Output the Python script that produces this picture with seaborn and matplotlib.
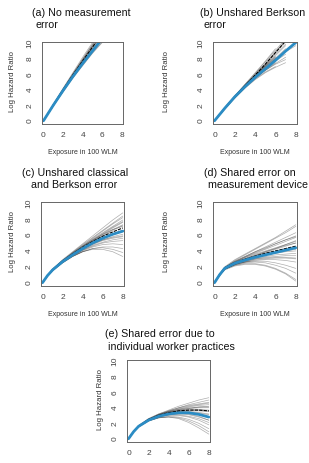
import numpy as np
import pandas as pd
import matplotlib
matplotlib.use("Agg")
import matplotlib.pyplot as plt
import seaborn as sns

# ---- data ----
# panel (a): no measurement error, x = 0..6
x_a = [0, 1, 2, 3, 4, 5, 6]
blue_a = [0, 2.0, 3.9, 5.7, 7.4, 9.0, 10.6]
black_a = [0, 2.0, 4.0, 5.9, 7.7, 9.5, 11.3]
sims_a = [
    [0, 2.0, 3.9, 5.8, 7.6, 9.3, 11.0],
    [0, 2.1, 4.1, 6.0, 7.9, 9.7, 11.5],
    [0, 1.9, 3.8, 5.6, 7.3, 8.9, 10.4],
    [0, 2.0, 4.0, 5.9, 7.8, 9.6, 11.3],
    [0, 2.1, 4.0, 5.8, 7.5, 9.2, 10.8],
    [0, 1.9, 3.9, 5.8, 7.7, 9.5, 11.2],
    [0, 2.0, 3.9, 5.7, 7.4, 9.0, 10.5],
    [0, 2.1, 4.1, 6.1, 8.0, 9.9, 11.8],
    [0, 2.0, 3.8, 5.6, 7.2, 8.8, 10.2],
    [0, 1.9, 3.8, 5.7, 7.6, 9.4, 11.1],
    [0, 2.0, 4.0, 6.0, 7.9, 9.8, 11.6],
    [0, 2.0, 3.9, 5.7, 7.5, 9.1, 10.7],
    [0, 1.9, 3.7, 5.5, 7.1, 8.7, 10.1],
    [0, 2.1, 4.2, 6.2, 8.2, 10.1, 12.0],
]

# panel (b): unshared Berkson error, x = 0..8 (runs stop at different x)
x_b = [0, 1, 2, 3, 4, 5, 6, 7, 8]
blue_b = [0, 1.6, 3.1, 4.4, 5.6, 6.7, 7.8, 9.0, 10.1]
black_b = [0, 1.6, 3.1, 4.5, 5.9, 7.3, 8.8, 10.3]
sims_b = [
    [0, 1.6, 3.1, 4.5, 5.8, 7.1, 8.4, 9.7],
    [0, 1.6, 3.0, 4.3, 5.5, 6.5, 7.4, 8.2],
    [0, 1.7, 3.2, 4.7, 6.1, 7.6, 9.1, 10.6],
    [0, 1.6, 3.1, 4.4, 5.6, 6.6, 7.5],
    [0, 1.5, 3.0, 4.3, 5.4, 6.3, 7.0],
    [0, 1.6, 3.1, 4.5, 5.9, 7.3, 8.8, 10.2],
    [0, 1.6, 3.0, 4.4, 5.7, 6.9, 8.0, 9.1],
    [0, 1.7, 3.2, 4.6, 6.0, 7.4, 8.9, 10.4],
    [0, 1.6, 3.1, 4.4, 5.7, 7.0, 8.2],
    [0, 1.5, 2.9, 4.2, 5.3, 6.2, 6.9, 7.5],
    [0, 1.6, 3.1, 4.5, 5.8, 7.2, 8.6, 9.9],
    [0, 1.6, 3.2, 4.6, 5.9, 7.1, 8.3],
    [0, 1.6, 3.0, 4.3, 5.5, 6.6, 7.7, 8.6],
    [0, 1.7, 3.2, 4.7, 6.2, 7.7, 9.3],
    [0, 1.6, 3.1, 4.5, 5.8, 7.0, 8.1, 9.3],
    [0, 1.6, 3.0, 4.3, 5.6, 6.8, 7.9],
    [0, 1.6, 3.1, 4.4, 5.6, 6.8, 8.0, 8.9, 9.7],
    [0, 1.5, 3.0, 4.3, 5.5, 6.5, 7.3, 7.9],
]

# panels (c)-(e) share this exposure grid
x_grid = [0, 0.5, 1, 2, 3, 4, 5, 6, 7, 8]

blue_c = [0, 0.9, 1.6, 2.65, 3.5, 4.3, 5.0, 5.6, 6.1, 6.5]
black_c = [0, 0.9, 1.6, 2.7, 3.6, 4.45, 5.2, 5.85, 6.4, 6.9]
sims_c = [
    [0, 0.9, 1.6, 2.7, 3.6, 4.5, 5.3, 6.1, 6.9, 7.6],
    [0, 0.9, 1.6, 2.6, 3.4, 4.1, 4.7, 5.1, 5.4, 5.6],
    [0, 0.9, 1.7, 2.8, 3.8, 4.8, 5.7, 6.6, 7.5, 8.4],
    [0, 0.9, 1.6, 2.6, 3.4, 4.0, 4.5, 4.8, 4.9, 4.8],
    [0, 0.9, 1.6, 2.7, 3.6, 4.4, 5.1, 5.7, 6.2, 6.6],
    [0, 0.8, 1.5, 2.5, 3.3, 3.9, 4.3, 4.5, 4.5, 4.3],
    [0, 0.9, 1.7, 2.8, 3.7, 4.6, 5.5, 6.3, 7.1, 7.9],
    [0, 0.9, 1.6, 2.6, 3.5, 4.2, 4.9, 5.4, 5.8, 6.1],
    [0, 0.9, 1.7, 2.8, 3.8, 4.7, 5.6, 6.5, 7.4, 8.2],
    [0, 0.8, 1.5, 2.5, 3.3, 3.9, 4.3, 4.4, 4.2, 3.8],
    [0, 0.9, 1.6, 2.7, 3.6, 4.4, 5.2, 5.9, 6.6, 7.2],
    [0, 0.9, 1.6, 2.6, 3.5, 4.2, 4.8, 5.3, 5.6, 5.8],
    [0, 0.9, 1.7, 2.8, 3.7, 4.6, 5.4, 6.2, 7.0, 7.7],
    [0, 0.8, 1.5, 2.5, 3.3, 3.9, 4.2, 4.2, 3.9, 3.3],
    [0, 0.9, 1.6, 2.7, 3.6, 4.5, 5.3, 6.0, 6.7, 7.3],
    [0, 0.9, 1.6, 2.6, 3.5, 4.3, 5.0, 5.6, 6.1, 6.4],
    [0, 0.9, 1.7, 2.9, 3.9, 4.9, 5.9, 6.9, 7.9, 8.8],
    [0, 0.9, 1.6, 2.6, 3.4, 4.1, 4.6, 5.0, 5.2, 5.3],
    [0, 0.9, 1.6, 2.7, 3.7, 4.6, 5.4, 6.1, 6.7, 7.1],
    [0, 0.9, 1.6, 2.6, 3.5, 4.3, 4.9, 5.4, 5.7, 5.9],
]

blue_d = [0, 1.0, 1.8, 2.45, 2.85, 3.2, 3.5, 3.8, 4.1, 4.4]
black_d = [0, 1.0, 1.8, 2.5, 2.95, 3.35, 3.7, 4.0, 4.3, 4.6]
sims_d = [
    [0, 1.0, 1.9, 2.7, 3.3, 3.9, 4.5, 5.1, 5.7, 6.3],
    [0, 1.0, 1.8, 2.4, 2.8, 3.1, 3.3, 3.5, 3.6, 3.7],
    [0, 1.1, 1.9, 2.8, 3.5, 4.2, 4.9, 5.6, 6.3, 7.1],
    [0, 0.9, 1.7, 2.3, 2.6, 2.8, 2.9, 2.9, 2.8, 2.6],
    [0, 1.0, 1.8, 2.5, 3.0, 3.4, 3.8, 4.2, 4.6, 5.0],
    [0, 0.9, 1.7, 2.2, 2.5, 2.6, 2.5, 2.2, 1.8, 1.2],
    [0, 1.0, 1.9, 2.6, 3.2, 3.7, 4.2, 4.7, 5.2, 5.7],
    [0, 1.0, 1.8, 2.4, 2.7, 3.0, 3.1, 3.2, 3.2, 3.1],
    [0, 0.9, 1.7, 2.2, 2.4, 2.4, 2.2, 1.8, 1.2, 0.4],
    [0, 1.0, 1.8, 2.5, 2.9, 3.3, 3.7, 4.0, 4.3, 4.6],
    [0, 1.0, 1.9, 2.6, 3.1, 3.6, 4.0, 4.4, 4.8, 5.2],
    [0, 0.9, 1.7, 2.3, 2.6, 2.9, 3.0, 3.1, 3.1, 3.0],
    [0, 1.1, 2.0, 2.9, 3.6, 4.3, 5.0, 5.7, 6.5, 7.3],
    [0, 1.0, 1.8, 2.4, 2.8, 3.2, 3.5, 3.8, 4.0, 4.2],
    [0, 0.9, 1.6, 2.1, 2.3, 2.3, 2.1, 1.7, 1.1, 0.2],
    [0, 1.0, 1.8, 2.5, 3.0, 3.5, 3.9, 4.3, 4.7, 5.0],
    [0, 1.0, 1.9, 2.6, 3.2, 3.8, 4.3, 4.9, 5.4, 5.9],
    [0, 0.9, 1.7, 2.3, 2.7, 3.0, 3.2, 3.3, 3.4, 3.4],
    [0, 1.0, 1.8, 2.4, 2.9, 3.2, 3.5, 3.7, 3.9, 4.0],
    [0, 0.9, 1.7, 2.3, 2.6, 2.7, 2.7, 2.5, 2.2, 1.8],
    [0, 1.0, 1.8, 2.5, 3.0, 3.4, 3.9, 4.3, 4.8, 5.3],
    [0, 1.0, 1.9, 2.7, 3.3, 3.9, 4.4, 4.9, 5.4, 5.8],
]

blue_e = [0, 0.9, 1.6, 2.4, 2.9, 3.2, 3.35, 3.35, 3.15, 2.8]
black_e = [0, 0.9, 1.6, 2.45, 3.0, 3.35, 3.6, 3.7, 3.7, 3.6]
sims_e = [
    [0, 0.9, 1.6, 2.5, 3.1, 3.6, 4.0, 4.4, 4.7, 5.0],
    [0, 0.9, 1.6, 2.4, 2.9, 3.2, 3.3, 3.2, 2.9, 2.4],
    [0, 0.9, 1.7, 2.6, 3.2, 3.7, 4.2, 4.6, 5.0, 5.3],
    [0, 0.9, 1.6, 2.3, 2.7, 2.9, 2.8, 2.5, 2.0, 1.3],
    [0, 0.9, 1.6, 2.5, 3.0, 3.4, 3.7, 3.9, 4.0, 4.0],
    [0, 0.9, 1.5, 2.3, 2.7, 2.8, 2.7, 2.3, 1.7, 0.9],
    [0, 0.9, 1.6, 2.5, 3.1, 3.5, 3.8, 4.1, 4.3, 4.4],
    [0, 0.9, 1.6, 2.4, 2.9, 3.2, 3.4, 3.4, 3.3, 3.1],
    [0, 0.9, 1.6, 2.4, 2.8, 3.0, 3.0, 2.8, 2.4, 1.8],
    [0, 0.9, 1.6, 2.5, 3.0, 3.4, 3.6, 3.8, 3.8, 3.7],
    [0, 0.9, 1.7, 2.6, 3.2, 3.6, 4.0, 4.3, 4.5, 4.7],
    [0, 0.9, 1.6, 2.4, 2.9, 3.1, 3.2, 3.1, 2.8, 2.4],
    [0, 0.9, 1.5, 2.3, 2.7, 2.8, 2.6, 2.1, 1.4, 0.6],
    [0, 0.9, 1.6, 2.5, 3.0, 3.4, 3.7, 3.9, 4.1, 4.2],
    [0, 0.9, 1.6, 2.4, 2.9, 3.3, 3.5, 3.6, 3.6, 3.5],
    [0, 0.9, 1.6, 2.5, 3.1, 3.5, 3.9, 4.2, 4.4, 4.6],
    [0, 0.9, 1.6, 2.4, 2.8, 3.1, 3.1, 2.9, 2.6, 2.1],
    [0, 0.9, 1.6, 2.5, 3.0, 3.3, 3.6, 3.7, 3.7, 3.6],
    [0, 0.9, 1.6, 2.4, 2.9, 3.3, 3.5, 3.5, 3.4, 3.2],
    [0, 0.9, 1.6, 2.5, 3.1, 3.5, 3.8, 4.0, 4.1, 4.1],
]

x_ticks = [0, 2, 4, 6, 8]
y_ticks = [0, 2, 4, 6, 8, 10]
x_label = "Exposure in 100 WLM"
y_label = "Log Hazard Ratio"

W, H = 309, 463
BLUE = "#2b8cc4"
FRAME = "#666666"

sns.set_style("white")
plt.rcParams["font.family"] = ["Liberation Sans", "DejaVu Sans"]


def long_form(x, runs):
    rows = []
    for i, ys in enumerate(runs):
        for xv, yv in zip(x, ys):
            rows.append({"x": xv, "y": yv, "run": i})
    return pd.DataFrame(rows)


def px_axes(fig, left, top, right, bottom):
    return fig.add_axes([left / W, 1 - bottom / H, (right - left) / W, (bottom - top) / H])


def ftext(fig, x, y, s, **kw):
    fig.text(x / W, 1 - y / H, s, **kw)


panels = [
    # box (l, t, r, b), x, blue, black, sims, title lines, ylabel x, show xlabel
    dict(box=(42, 42, 123, 124), x=x_a, blue=blue_a, black=black_a, sims=sims_a,
         title=[(32, 13, "(a) No measurement"), (35, 25, "error")], ylx=12.5, xl=True),
    dict(box=(213, 42, 297, 124), x=x_b, blue=blue_b, black=black_b, sims=sims_b,
         title=[(200, 13, "(b) Unshared Berkson"), (204, 25, "error")], ylx=167, xl=True),
    dict(box=(41, 202, 124, 286), x=x_grid, blue=blue_c, black=black_c, sims=sims_c,
         title=[(22, 173, "(c) Unshared classical"), (31, 185, "and Berkson error")], ylx=12.5, xl=True),
    dict(box=(213, 202, 297, 286), x=x_grid, blue=blue_d, black=black_d, sims=sims_d,
         title=[(204, 173, "(d) Shared error on"), (208, 185, "measurement device")], ylx=167, xl=True),
    dict(box=(127, 360, 210, 442), x=x_grid, blue=blue_e, black=black_e, sims=sims_e,
         title=[(105, 334, "(e) Shared error due to"), (108, 347, "individual worker practices")], ylx=100, xl=False),
]

fig = plt.figure(figsize=(W / 100, H / 100), dpi=100)

for p in panels:
    l, t, r, b = p["box"]
    ax = px_axes(fig, l, t, r, b)
    sims = long_form(p["x"], p["sims"])
    sns.lineplot(data=sims, x="x", y="y", units="run", estimator=None, sort=False,
                 color="black", alpha=0.32, lw=0.5, ax=ax, legend=False)
    sns.lineplot(x=p["x"][:len(p["black"])], y=p["black"], color="black", lw=0.8,
                 ls=(0, (3, 1)), ax=ax, legend=False)
    sns.lineplot(x=p["x"][:len(p["blue"])], y=p["blue"], color=BLUE, lw=2.0, ax=ax, legend=False)

    ax.set_xlim(-0.15, 8.12)
    ax.set_ylim(-0.42, 10.17)
    ax.set_xticks(x_ticks)
    ax.set_yticks(y_ticks)
    ax.set_xlabel("")
    ax.set_ylabel("")
    ax.tick_params(axis="both", direction="out", length=3, width=0.6, color=FRAME,
                   labelsize=6, labelcolor="#444444", pad=3)
    ax.tick_params(axis="y", labelrotation=90)
    for lab in ax.get_yticklabels():
        lab.set_va("center")
    for sp in ax.spines.values():
        sp.set_color(FRAME)
        sp.set_linewidth(0.7)

    for tx, ty, s in p["title"]:
        ftext(fig, tx, ty, s, ha="left", va="center", fontsize=7.7, color="#111111")
    ftext(fig, p["ylx"], (t + b) / 2 - 2, y_label, rotation=90, ha="center", va="center",
          fontsize=5.6, color="#333333")
    if p["xl"]:
        ftext(fig, (l + r) / 2, b + 29, x_label, ha="center", va="center",
              fontsize=5, color="#333333")

fig.savefig("out.png", dpi=100)
